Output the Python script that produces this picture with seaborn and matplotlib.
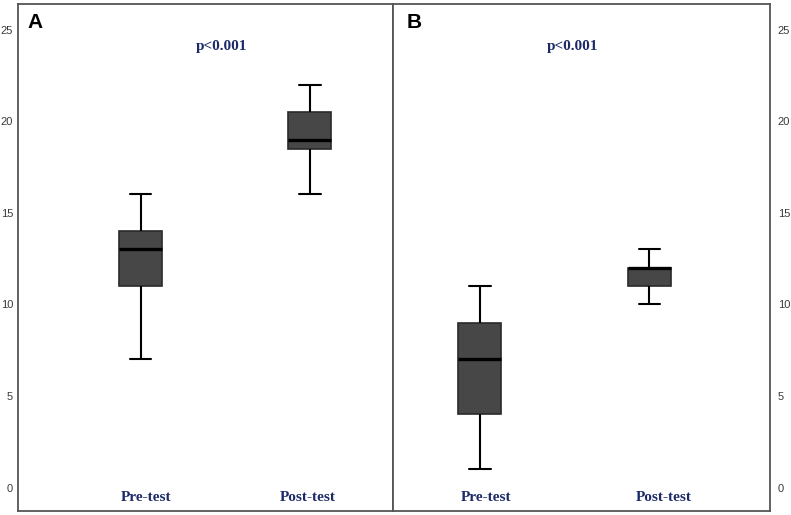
import pandas as pd
import matplotlib
matplotlib.use('Agg')
import matplotlib.pyplot as plt
import matplotlib.transforms as mtransforms
import seaborn as sns

# values: min, q1, median, q3, max per group
tests = ['Pre-test', 'Post-test']
a_pre = [7, 11, 13, 14, 16]
a_post = [16, 18.5, 19, 20.5, 22]
b_pre = [1, 4, 7, 9, 11]
b_post = [10, 11, 12, 12, 13]
y_ticks = [0, 5, 10, 15, 20, 25]
panels = ['A', 'B']
p_text = 'p<0.001'


def long_df(pre, post):
    return pd.DataFrame({
        'test': [tests[0]] * len(pre) + [tests[1]] * len(post),
        'score': pre + post,
    })


sns.set_style('white')
plt.rcParams['font.family'] = ['Liberation Sans', 'DejaVu Sans']

fig = plt.figure(figsize=(7.91, 5.15), dpi=100)
ax1 = fig.add_axes([18 / 791, 4 / 515, 375 / 791, 507 / 515])
ax2 = fig.add_axes([393 / 791, 4 / 515, 377 / 791, 507 / 515])

navy = '#1c2a68'
box_kw = dict(
    x='test', y='score', order=tests, whis=(0, 100), width=0.254,
    color='#474747', linecolor='#222222', linewidth=1.5,
    medianprops=dict(color='black', linewidth=2.4),
    whiskerprops=dict(color='black', linewidth=1.5),
    capprops=dict(color='black', linewidth=1.5),
    boxprops=dict(facecolor='#474747', edgecolor='#2a2a2a', linewidth=1.2),
)

frames = [(ax1, long_df(a_pre, a_post), (-0.723, 1.49), [0.03, 0.99], 0.544, 0.024),
          (ax2, long_df(b_pre, b_post), (-0.513, 1.711), [0.035, 1.085], 0.475, 0.037)]

for (ax, df, xl, lab_x, p_x, let_x), name in zip(frames, panels):
    sns.boxplot(data=df, ax=ax, **box_kw)
    ax.set_xlim(*xl)
    ax.set_ylim(-1.28, 26.4)
    ax.set_yticks(y_ticks)
    ax.set_xticks([])
    ax.set(xlabel='', ylabel='')
    ax.tick_params(axis='y', length=0, labelsize=8, labelcolor='#3a3a3a', pad=3.5)
    for s in ax.spines.values():
        s.set_visible(True)
        s.set_color('#555555')
        s.set_linewidth(1.3)
    # group names sit inside the frame, under the boxes
    for xi, t in zip(lab_x, tests):
        ax.text(xi, -0.57, t, ha='center', va='center', fontsize=11,
                fontweight='bold', color=navy, family='Liberation Serif')
    trans = mtransforms.blended_transform_factory(ax.transAxes, ax.transData)
    ax.text(p_x, 24.1, p_text, transform=trans, ha='center', va='center',
            fontsize=11, fontweight='bold', color=navy, family='Liberation Serif')
    ax.text(let_x, 0.982, name, transform=ax.transAxes, ha='left', va='top',
            fontsize=15, fontweight='bold', color='black')

ax2.yaxis.tick_right()
ax2.tick_params(axis='y', length=0, pad=5.5)

fig.savefig('out.png', dpi=100)
